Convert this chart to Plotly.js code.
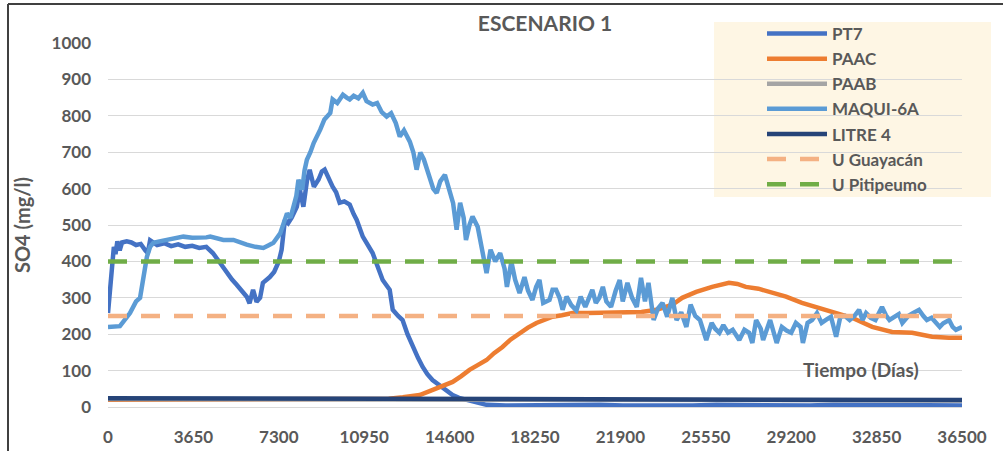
<!DOCTYPE html>
<html>
<head>
<meta charset="utf-8">
<script src="https://cdn.plot.ly/plotly-3.0.1.min.js"></script>
<style>
html,body{margin:0;padding:0;background:#fff;}
#chart{width:1003px;height:451px;}
</style>
</head>
<body>
<div id="chart"></div>
<script>
// ---- Data ----
const xTicks = [0,3650,7300,10950,14600,18250,21900,25550,29200,32850,36500];

const pt7Days = [0,150,250,320,400,500,600,800,1000,1200,1400,1600,1700,1800,1950,2100,2400,2700,3000,3300,3600,3900,4200,4480,4800,5080,5300,5500,5750,5930,6050,6200,6350,6500,6620,6800,6915,7100,7300,7420,7560,7700,7850,8070,8200,8350,8500,8620,8800,9000,9140,9260,9400,9600,9750,9900,10100,10330,10500,10630,10890,11100,11310,11500,11740,12040,12170,12400,12590,12800,13020,13250,13450,13650,13870,14100,14300,14500,14730,15000,15330,15700,16180,17000,18000,19000,20000,21000,22000,23000,24000,25000,26000,27000,28000,29000,30000,31000,32000,33000,34000,35000,36500];
const pt7Vals = [258,380,440,420,455,430,452,455,452,445,448,430,423,458,450,445,450,442,447,440,443,437,440,423,395,368,350,336,315,303,285,322,289,300,341,350,357,371,400,432,514,505,520,550,597,550,620,652,605,625,647,652,630,605,590,561,565,556,530,514,468,445,423,390,349,322,267,250,239,200,165,135,110,90,74,62,52,42,33,25,19,12,6,4,5,3,5,6,4,3,5,4,6,5,3,5,4,6,5,4,3,5,4];

const paacDays = [0,10000,11500,12000,12600,13320,13800,14170,14730,15100,15450,15800,16180,16500,16860,17200,17590,17950,18310,18650,19000,19400,19850,20500,21300,22000,22800,23450,24120,24540,25140,25820,26540,26900,27260,27800,28260,28980,29660,30390,31120,31800,32660,33510,34370,35220,35940,36500];
const paacVals = [20,20,21,23,27,33,45,55,69,85,102,115,129,148,165,185,204,218,231,240,248,252,258,258,258,259,261,267,281,300,316,330,341,338,330,325,316,303,286,272,258,245,220,206,204,193,190,190];

const paabDays = [0,36500];
const paabVals = [22,18];

const maquiDays = [0,300,510,940,1200,1370,1500,1660,1800,1940,2200,2520,2900,3220,3600,3940,4200,4370,4650,4930,5360,5650,5930,6300,6640,6850,7070,7360,7500,7650,7800,7930,8050,8140,8300,8400,8500,8650,8790,9070,9250,9500,9600,9800,10040,10200,10330,10500,10700,10890,11050,11310,11500,11700,11910,12100,12300,12470,12650,12900,13050,13190,13350,13500,13760,13900,14050,14200,14400,14600,14750,14900,15050,15200,15300,15450,15580,15800,15950,16180,16350,16550,16760,16950,17050,17240,17400,17590,17800,17950,18140,18300,18440,18600,18870,19000,19150,19300,19430,19600,19800,20020,20200,20400,20700,20850,21000,21150,21300,21500,21700,21870,22000,22200,22400,22600,22780,22950,23100,23320,23500,23700,23900,24120,24300,24500,24720,24900,25100,25300,25570,25800,25950,26130,26300,26500,26700,26980,27200,27400,27540,27700,27900,28000,28300,28580,28800,29000,29200,29400,29600,29700,29900,30090,30300,30500,30700,30900,31120,31300,31500,31700,31900,32100,32250,32400,32600,32800,33080,33250,33400,33600,33800,33950,34200,34400,34660,34850,35000,35200,35400,35550,35700,35950,36100,36240,36500];
const maquiVals = [220,220,222,258,290,300,349,412,440,451,455,459,462,468,465,464,466,468,462,459,459,452,446,440,437,444,451,477,500,532,520,550,580,624,597,650,679,700,725,762,790,808,845,835,858,850,845,855,848,863,840,831,835,810,798,807,780,743,760,729,700,652,699,680,624,600,588,620,638,590,560,487,561,520,459,500,523,495,450,368,432,400,423,380,330,399,350,313,357,320,294,330,349,286,294,322,322,300,267,303,280,265,303,275,322,286,300,330,290,275,320,349,290,341,300,275,355,290,341,239,270,286,248,300,239,260,220,281,250,239,184,231,215,204,225,204,212,184,212,204,176,239,215,184,239,176,220,210,204,231,220,176,231,239,258,231,240,248,193,248,250,239,250,267,239,258,245,239,275,252,239,248,255,231,250,258,267,250,239,245,231,220,230,239,220,212,220];

const litreDays = [0,10000,20000,30000,36500];
const litreVals = [24,23,22,20,19];

const guayacanDays = [0,36500];
const guayacanVals = [250,250];

const pitipeumoDays = [0,36500];
const pitipeumoVals = [400,400];

// ---- Styling / traces ----
const gray = '#595959';
const FONT = 'Lato, "Open Sans", sans-serif';

function mk(name, x, y, color, dash, group){
  return {
    type:'scatter', mode:'lines', name:name, x:x, y:y,
    legendgroup:group,
    line:{color:color, width:4.5, dash:dash||'solid'},
    hoverinfo:'x+y+name'
  };
}

const traces = [
  mk('PT7', pt7Days, pt7Vals, '#4472C4', null, 'g1'),
  mk('PAAC', paacDays, paacVals, '#ED7D31', null, 'g2'),
  mk('PAAB', paabDays, paabVals, '#A5A5A5', null, 'g3'),
  mk('MAQUI-6A', maquiDays, maquiVals, '#5B9BD5', null, 'g4'),
  mk('LITRE 4', litreDays, litreVals, '#264478', null, 'g5'),
  mk('U Guayacán', guayacanDays, guayacanVals, '#F4B183', '19px,14px', 'g6'),
  mk('U Pitipeumo', pitipeumoDays, pitipeumoVals, '#70AD47', '19px,14px', 'g7')
];

const L=108, R=962, T=43, B=407;
const W=R-L, H=B-T;
const px2x = p => (p-L)/W;
const px2y = p => (B-p)/H;

const layout = {
  width:1003, height:451,
  margin:{l:L, r:1003-R, t:T, b:451-B, pad:0},
  paper_bgcolor:'#ffffff', plot_bgcolor:'rgba(0,0,0,0)',
  font:{family:FONT, color:gray, size:16},
  title:{text:'<b>ESCENARIO 1</b>', font:{family:FONT, size:21, color:gray}, x:px2x(545), xref:'paper', xanchor:'center', y:1-24/451, yanchor:'middle'},
  showlegend:true,
  legend:{
    x:px2x(762), y:px2y(16), xanchor:'left', yanchor:'top',
    bgcolor:'rgba(0,0,0,0)', borderwidth:0,
    font:{family:FONT, size:17, color:gray, weight:'bold'},
    itemwidth:60, tracegroupgap:0, traceorder:'grouped'
  },
  xaxis:{
    range:[0,36500], tickvals:xTicks, ticktext:xTicks.map(String),
    showgrid:false, zeroline:false, showline:false, ticks:'',
    ticklabelstandoff:18,
    tickfont:{family:FONT, size:17, color:gray, weight:'bold'},
    fixedrange:true
  },
  yaxis:{
    range:[0,1000], dtick:100, tick0:0,
    showgrid:true, gridcolor:'#d9d9d9', gridwidth:1,
    zeroline:true, zerolinecolor:'#d9d9d9', zerolinewidth:1,
    showline:false, ticks:'', ticklen:0,
    ticklabelstandoff:16,
    tickfont:{family:FONT, size:17, color:gray, weight:'bold'},
    title:{text:'<b>SO4 (mg/l)</b>', font:{family:FONT, size:20, color:gray}, standoff:15},
    fixedrange:true
  },
  annotations:[
    {text:'<b>Tiempo (Días)</b>', xref:'paper', yref:'paper', x:px2x(861), y:px2y(369), xanchor:'center', yanchor:'middle', showarrow:false, font:{family:FONT, size:19, color:gray}}
  ],
  shapes:[
    {type:'rect', xref:'paper', yref:'paper', x0:px2x(714), x1:px2x(991), y0:px2y(197), y1:px2y(22), fillcolor:'#FEF6E4', line:{width:0}, layer:'below'},
    {type:'line', xref:'paper', yref:'paper', x0:px2x(8), x1:px2x(1003), y0:px2y(4), y1:px2y(4), line:{color:'#404040', width:2}},
    {type:'line', xref:'paper', yref:'paper', x0:px2x(8), x1:px2x(8), y0:px2y(4), y1:px2y(452), line:{color:'#404040', width:2}}
  ]
};

Plotly.newPlot('chart', traces, layout, {displayModeBar:false, staticPlot:true});
</script>
</body>
</html>
